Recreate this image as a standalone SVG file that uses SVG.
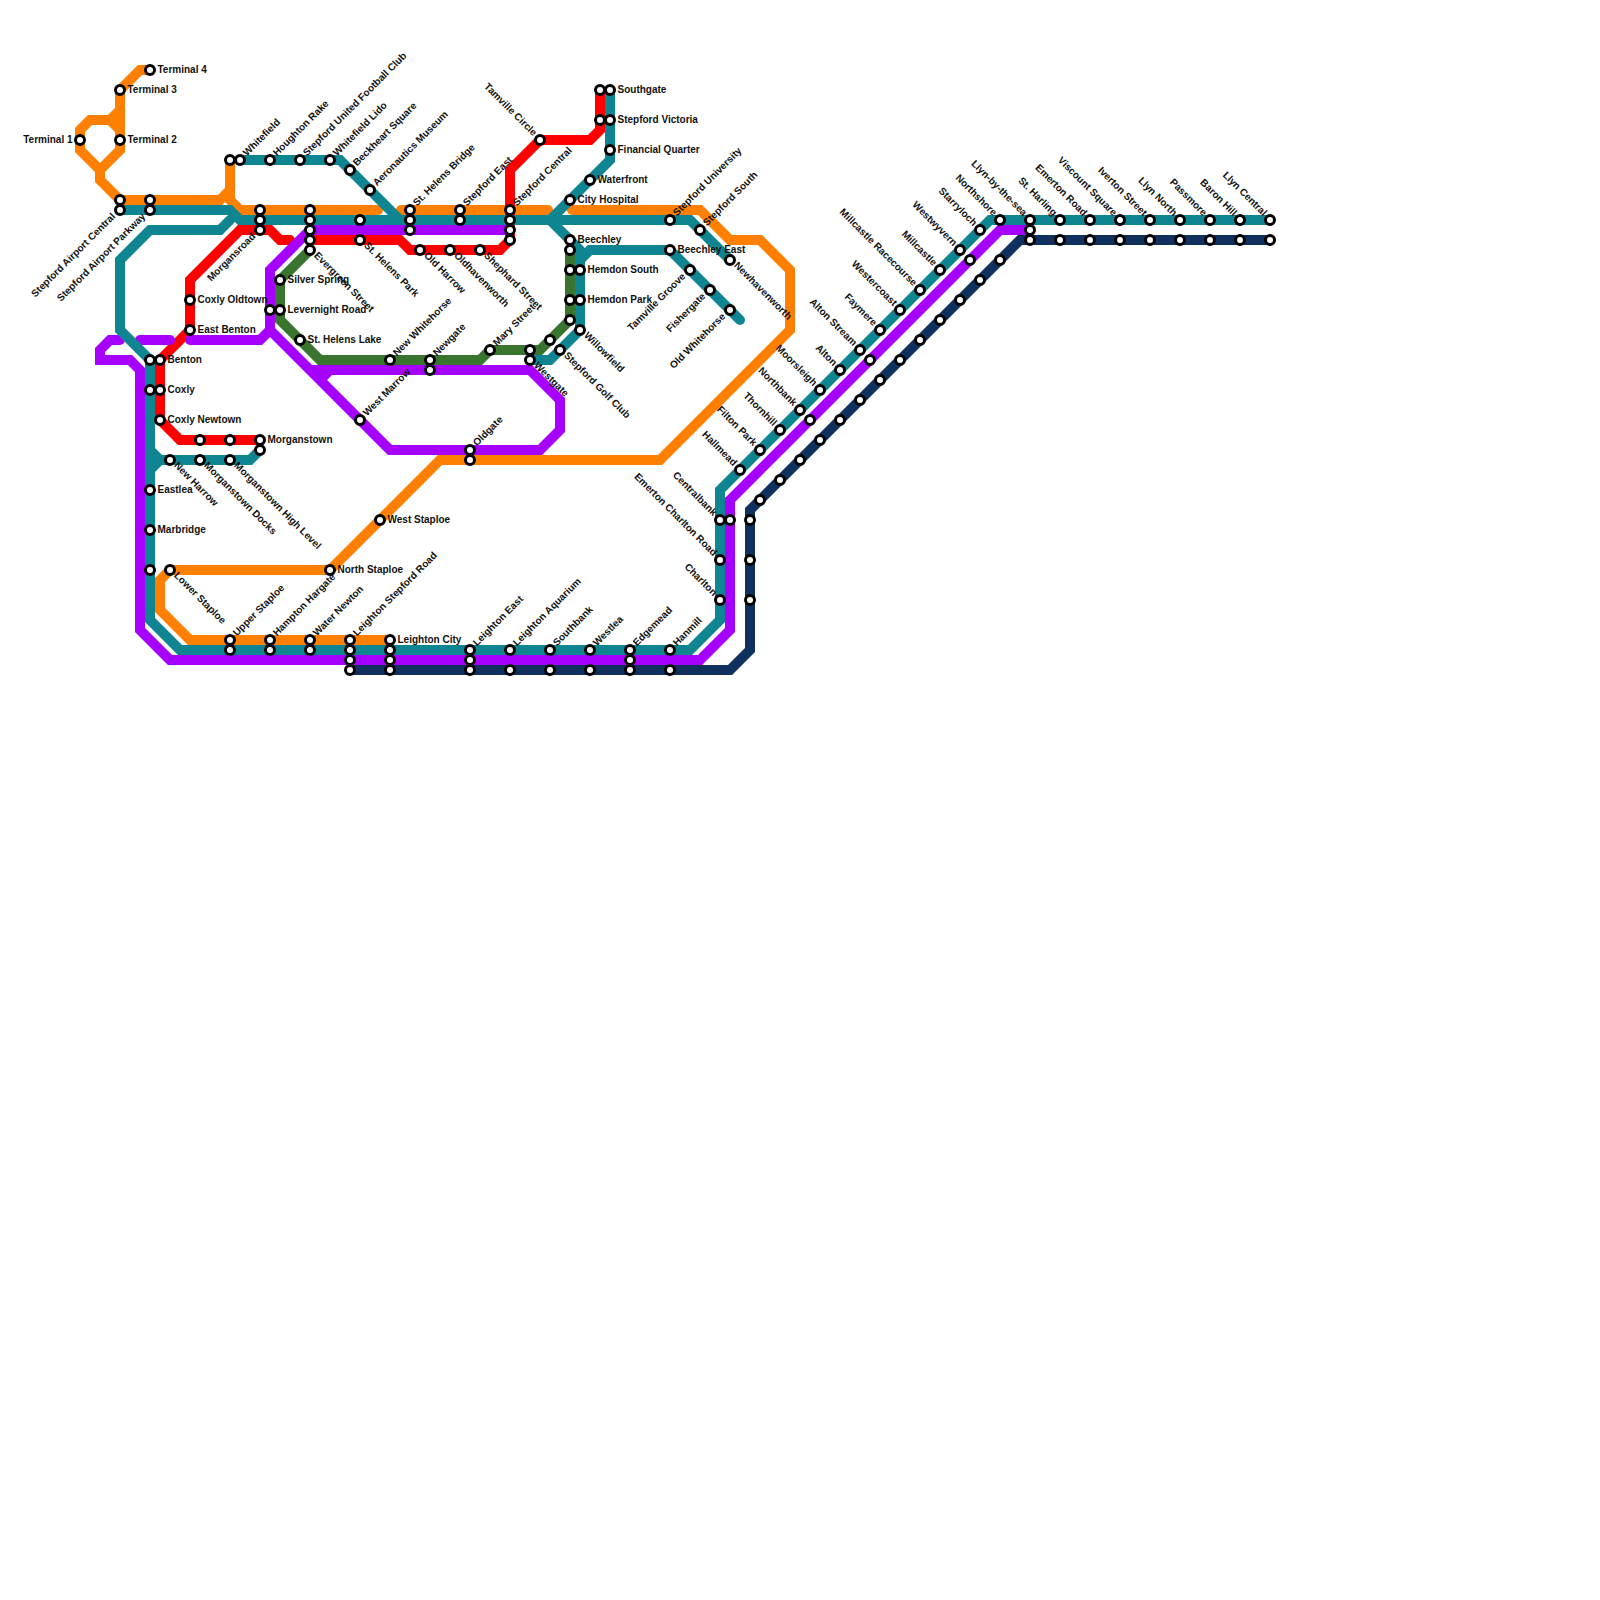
<svg xmlns="http://www.w3.org/2000/svg" width="1600" height="1600" viewBox="0 0 1600 1600">
<style>
.l{fill:none;stroke-width:10;stroke-linejoin:miter;stroke-linecap:round;stroke-miterlimit:8}
.o{stroke:#ff7f00}.r{stroke:#ff0000}.g{stroke:#3a7530}.p{stroke:#a600ff}.t{stroke:#0e8590}.n{stroke:#10305d}
circle{fill:#fff;stroke:#000;stroke-width:3}
text{font-family:"Liberation Sans",Arial,sans-serif;font-size:10px;font-weight:700;fill:#111}
.e{text-anchor:end}
</style>
<rect width="1600" height="1600" fill="#fff"/>
<g id="connectors">
<path class="l o" d="M150 70H140L120 90V150L100 170V180L120 200H220L230 190V160M230 190V200L240 210H378M120 130L110 120H90L80 130V150L100 170M110 120L120 110M401 210H548M572 210H700L730 240H760L790 270V330L660 460H440L330 570H170L160 580V610L190 640H390"/>
<path class="l r" d="M290 240H280L270 230H240L190 280V330L160 360V420L180 440H260M600 90V130L590 140H540L510 170V240L500 250H410L400 240H315"/>
<path class="l g" d="M310 250L280 280V320L320 360H480L490 350H540L570 320V250"/>
<path class="l p" d="M120 340H110L100 350V360H130L140 370V630L170 660H700L730 630V500L1000 230H1030M140 340H170M190 340H260L270 330V270L310 230H510M270 330L390 450H540L560 430V400L530 370H310M330 370L320 380"/>
<path class="l t" d="M120 210H230L240 220H690L730 260M150 360L120 330V260L150 230H220L230 220M240 160H340L400 220M150 360V620L180 650H690L720 620V490L990 220H1270M150 450L160 460H250L260 450M150 470L160 460M610 90V160L550 220L580 250M580 260L590 250H670L740 320M580 250V330L550 360H530"/>
<path class="l n" d="M350 670H730L750 650V510L1020 240H1270"/>
</g>
<g id="nodes">
<g id="s1"><circle cx="80" cy="140" r="4.5"/><text class="e" x="72.5" y="143">Terminal 1</text></g>
<g id="s2"><circle cx="120" cy="140" r="4.5"/><text x="127.5" y="143">Terminal 2</text></g>
<g id="s3"><circle cx="120" cy="90" r="4.5"/><text x="127.5" y="93">Terminal 3</text></g>
<g id="s4"><circle cx="150" cy="70" r="4.5"/><text x="157.5" y="73">Terminal 4</text></g>
<g id="s5"><circle cx="160" cy="360" r="4.5"/><text x="167.5" y="363">Benton</text></g>
<g id="s6"><circle cx="160" cy="390" r="4.5"/><text x="167.5" y="393">Coxly</text></g>
<g id="s7"><circle cx="160" cy="420" r="4.5"/><text x="167.5" y="423">Coxly Newtown</text></g>
<g id="s8"><circle cx="260" cy="440" r="4.5"/><text x="267.5" y="443">Morganstown</text></g>
<g id="s9"><circle cx="150" cy="490" r="4.5"/><text x="157.5" y="493">Eastlea</text></g>
<g id="s10"><circle cx="150" cy="530" r="4.5"/><text x="157.5" y="533">Marbridge</text></g>
<g id="s11"><circle cx="330" cy="570" r="4.5"/><text x="337.5" y="573">North Staploe</text></g>
<g id="s12"><circle cx="380" cy="520" r="4.5"/><text x="387.5" y="523">West Staploe</text></g>
<g id="s13"><circle cx="390" cy="640" r="4.5"/><text x="397.5" y="643">Leighton City</text></g>
<g id="s14"><circle cx="190" cy="300" r="4.5"/><text x="197.5" y="303">Coxly Oldtown</text></g>
<g id="s15"><circle cx="190" cy="330" r="4.5"/><text x="197.5" y="333">East Benton</text></g>
<g id="s16"><circle cx="280" cy="280" r="4.5"/><text x="287.5" y="283">Silver Spring</text></g>
<g id="s17"><circle cx="280" cy="310" r="4.5"/><text x="287.5" y="313">Levernight Road</text></g>
<g id="s18"><circle cx="300" cy="340" r="4.5"/><text x="307.5" y="343">St. Helens Lake</text></g>
<g id="s19"><circle cx="610" cy="90" r="4.5"/><text x="617.5" y="93">Southgate</text></g>
<g id="s20"><circle cx="610" cy="120" r="4.5"/><text x="617.5" y="123">Stepford Victoria</text></g>
<g id="s21"><circle cx="610" cy="150" r="4.5"/><text x="617.5" y="153">Financial Quarter</text></g>
<g id="s22"><circle cx="590" cy="180" r="4.5"/><text x="597.5" y="183">Waterfront</text></g>
<g id="s23"><circle cx="570" cy="200" r="4.5"/><text x="577.5" y="203">City Hospital</text></g>
<g id="s24"><circle cx="570" cy="240" r="4.5"/><text x="577.5" y="243">Beechley</text></g>
<g id="s25"><circle cx="580" cy="270" r="4.5"/><text x="587.5" y="273">Hemdon South</text></g>
<g id="s26"><circle cx="580" cy="300" r="4.5"/><text x="587.5" y="303">Hemdon Park</text></g>
<g id="s27"><circle cx="670" cy="250" r="4.5"/><text x="677.5" y="253">Beechley East</text></g>
<g id="s28"><circle cx="240" cy="160" r="4.5"/><text transform="translate(247 156.5) rotate(-45)">Whitefield</text></g>
<g id="s29"><circle cx="270" cy="160" r="4.5"/><text transform="translate(277 156.5) rotate(-45)">Houghton Rake</text></g>
<g id="s30"><circle cx="300" cy="160" r="4.5"/><text transform="translate(307 156.5) rotate(-45)">Stepford United Football Club</text></g>
<g id="s31"><circle cx="330" cy="160" r="4.5"/><text transform="translate(337 156.5) rotate(-45)">Whitefield Lido</text></g>
<g id="s32"><circle cx="350" cy="170" r="4.5"/><text transform="translate(357 166.5) rotate(-45)">Beckheart Square</text></g>
<g id="s33"><circle cx="370" cy="190" r="4.5"/><text transform="translate(377 186.5) rotate(-45)">Aeronautics Museum</text></g>
<g id="s34"><circle cx="410" cy="210" r="4.5"/><text transform="translate(417 206.5) rotate(-45)">St. Helens Bridge</text></g>
<g id="s35"><circle cx="460" cy="210" r="4.5"/><text transform="translate(467 206.5) rotate(-45)">Stepford East</text></g>
<g id="s36"><circle cx="510" cy="210" r="4.5"/><text transform="translate(517 206.5) rotate(-45)">Stepford Central</text></g>
<g id="s37"><circle cx="670" cy="220" r="4.5"/><text transform="translate(677 216.5) rotate(-45)">Stepford University</text></g>
<g id="s38"><circle cx="700" cy="230" r="4.5"/><text transform="translate(707 226.5) rotate(-45)">Stepford South</text></g>
<g id="s39"><circle cx="390" cy="360" r="4.5"/><text transform="translate(397 356.5) rotate(-45)">New Whitehorse</text></g>
<g id="s40"><circle cx="430" cy="360" r="4.5"/><text transform="translate(437 356.5) rotate(-45)">Newgate</text></g>
<g id="s41"><circle cx="490" cy="350" r="4.5"/><text transform="translate(497 346.5) rotate(-45)">Mary Street</text></g>
<g id="s42"><circle cx="360" cy="420" r="4.5"/><text transform="translate(367 416.5) rotate(-45)">West Marrow</text></g>
<g id="s43"><circle cx="470" cy="450" r="4.5"/><text transform="translate(477 446.5) rotate(-45)">Oldgate</text></g>
<g id="s44"><circle cx="230" cy="640" r="4.5"/><text transform="translate(237 636.5) rotate(-45)">Upper Staploe</text></g>
<g id="s45"><circle cx="270" cy="640" r="4.5"/><text transform="translate(277 636.5) rotate(-45)">Hampton Hargate</text></g>
<g id="s46"><circle cx="310" cy="640" r="4.5"/><text transform="translate(317 636.5) rotate(-45)">Water Newton</text></g>
<g id="s47"><circle cx="350" cy="640" r="4.5"/><text transform="translate(357 636.5) rotate(-45)">Leighton Stepford Road</text></g>
<g id="s48"><circle cx="470" cy="650" r="4.5"/><text transform="translate(477 646.5) rotate(-45)">Leighton East</text></g>
<g id="s49"><circle cx="510" cy="650" r="4.5"/><text transform="translate(517 646.5) rotate(-45)">Leighton Aquarium</text></g>
<g id="s50"><circle cx="550" cy="650" r="4.5"/><text transform="translate(557 646.5) rotate(-45)">Southbank</text></g>
<g id="s51"><circle cx="590" cy="650" r="4.5"/><text transform="translate(597 646.5) rotate(-45)">Westlea</text></g>
<g id="s52"><circle cx="630" cy="650" r="4.5"/><text transform="translate(637 646.5) rotate(-45)">Edgemead</text></g>
<g id="s53"><circle cx="670" cy="650" r="4.5"/><text transform="translate(677 646.5) rotate(-45)">Hanmill</text></g>
<g id="s54"><circle cx="360" cy="240" r="4.5"/><text transform="translate(363.5 246) rotate(45)">St. Helens Park</text></g>
<g id="s55"><circle cx="310" cy="250" r="4.5"/><text transform="translate(313.5 256) rotate(45)">Evergreen Street</text></g>
<g id="s56"><circle cx="420" cy="250" r="4.5"/><text transform="translate(423.5 256) rotate(45)">Old Harrow</text></g>
<g id="s57"><circle cx="450" cy="250" r="4.5"/><text transform="translate(453.5 256) rotate(45)">Oldhavenworth</text></g>
<g id="s58"><circle cx="480" cy="250" r="4.5"/><text transform="translate(483.5 256) rotate(45)">Shephard Street</text></g>
<g id="s59"><circle cx="580" cy="330" r="4.5"/><text transform="translate(583.5 336) rotate(45)">Willowfield</text></g>
<g id="s60"><circle cx="560" cy="350" r="4.5"/><text transform="translate(563.5 356) rotate(45)">Stepford Golf Club</text></g>
<g id="s61"><circle cx="530" cy="360" r="4.5"/><text transform="translate(533.5 366) rotate(45)">Westgate</text></g>
<g id="s62"><circle cx="730" cy="260" r="4.5"/><text transform="translate(733.5 266) rotate(45)">Newhavenworth</text></g>
<g id="s63"><circle cx="170" cy="460" r="4.5"/><text transform="translate(173.5 466) rotate(45)">New Harrow</text></g>
<g id="s64"><circle cx="200" cy="460" r="4.5"/><text transform="translate(203.5 466) rotate(45)">Morganstown Docks</text></g>
<g id="s65"><circle cx="230" cy="460" r="4.5"/><text transform="translate(233.5 466) rotate(45)">Morganstown High Level</text></g>
<g id="s66"><circle cx="170" cy="570" r="4.5"/><text transform="translate(173.5 576) rotate(45)">Lower Staploe</text></g>
<g id="s67"><circle cx="540" cy="140" r="4.5"/><text class="e" transform="translate(533 136.5) rotate(45)">Tamville Circle</text></g>
<g id="s68"><circle cx="740" cy="470" r="4.5"/><text class="e" transform="translate(733 466.5) rotate(45)">Hallmead</text></g>
<g id="s69"><circle cx="760" cy="450" r="4.5"/><text class="e" transform="translate(753 446.5) rotate(45)">Filton Park</text></g>
<g id="s70"><circle cx="780" cy="430" r="4.5"/><text class="e" transform="translate(773 426.5) rotate(45)">Thornhill</text></g>
<g id="s71"><circle cx="800" cy="410" r="4.5"/><text class="e" transform="translate(793 406.5) rotate(45)">Northbank</text></g>
<g id="s72"><circle cx="820" cy="390" r="4.5"/><text class="e" transform="translate(813 386.5) rotate(45)">Moorsleigh</text></g>
<g id="s73"><circle cx="840" cy="370" r="4.5"/><text class="e" transform="translate(833 366.5) rotate(45)">Alton</text></g>
<g id="s74"><circle cx="860" cy="350" r="4.5"/><text class="e" transform="translate(853 346.5) rotate(45)">Alton Stream</text></g>
<g id="s75"><circle cx="880" cy="330" r="4.5"/><text class="e" transform="translate(873 326.5) rotate(45)">Faymere</text></g>
<g id="s76"><circle cx="900" cy="310" r="4.5"/><text class="e" transform="translate(893 306.5) rotate(45)">Westercoast</text></g>
<g id="s77"><circle cx="920" cy="290" r="4.5"/><text class="e" transform="translate(913 286.5) rotate(45)">Millcastle Racecourse</text></g>
<g id="s78"><circle cx="940" cy="270" r="4.5"/><text class="e" transform="translate(933 266.5) rotate(45)">Millcastle</text></g>
<g id="s79"><circle cx="960" cy="250" r="4.5"/><text class="e" transform="translate(953 246.5) rotate(45)">Westwyvern</text></g>
<g id="s80"><circle cx="980" cy="230" r="4.5"/><text class="e" transform="translate(973 226.5) rotate(45)">Starryloch</text></g>
<g id="s81"><circle cx="1000" cy="220" r="4.5"/><text class="e" transform="translate(993 216.5) rotate(45)">Northshore</text></g>
<g id="s82"><circle cx="1030" cy="220" r="4.5"/><text class="e" transform="translate(1023 216.5) rotate(45)">Llyn-by-the-sea</text></g>
<g id="s83"><circle cx="1060" cy="220" r="4.5"/><text class="e" transform="translate(1053 216.5) rotate(45)">St. Harling</text></g>
<g id="s84"><circle cx="1090" cy="220" r="4.5"/><text class="e" transform="translate(1083 216.5) rotate(45)">Emerton Road</text></g>
<g id="s85"><circle cx="1120" cy="220" r="4.5"/><text class="e" transform="translate(1113 216.5) rotate(45)">Viscount Square</text></g>
<g id="s86"><circle cx="1150" cy="220" r="4.5"/><text class="e" transform="translate(1143 216.5) rotate(45)">Iverton Street</text></g>
<g id="s87"><circle cx="1180" cy="220" r="4.5"/><text class="e" transform="translate(1173 216.5) rotate(45)">Llyn North</text></g>
<g id="s88"><circle cx="1210" cy="220" r="4.5"/><text class="e" transform="translate(1203 216.5) rotate(45)">Passmore</text></g>
<g id="s89"><circle cx="1240" cy="220" r="4.5"/><text class="e" transform="translate(1233 216.5) rotate(45)">Baron Hill</text></g>
<g id="s90"><circle cx="1270" cy="220" r="4.5"/><text class="e" transform="translate(1263 216.5) rotate(45)">Llyn Central</text></g>
<g id="s91"><circle cx="720" cy="520" r="4.5"/><text class="e" transform="translate(713 516.5) rotate(45)">Centralbank</text></g>
<g id="s92"><circle cx="720" cy="560" r="4.5"/><text class="e" transform="translate(713 556.5) rotate(45)">Emerton Charlton Road</text></g>
<g id="s93"><circle cx="720" cy="600" r="4.5"/><text class="e" transform="translate(713 596.5) rotate(45)">Charlton</text></g>
<g id="s94"><circle cx="120" cy="210" r="4.5"/><text class="e" transform="translate(116 217) rotate(-45)">Stepford Airport Central</text></g>
<g id="s95"><circle cx="150" cy="210" r="4.5"/><text class="e" transform="translate(146 217) rotate(-45)">Stepford Airport Parkway</text></g>
<g id="s96"><circle cx="260" cy="230" r="4.5"/><text class="e" transform="translate(256 237) rotate(-45)">Morgansroad</text></g>
<g id="s97"><circle cx="690" cy="270" r="4.5"/><text class="e" transform="translate(686 277) rotate(-45)">Tamville Groove</text></g>
<g id="s98"><circle cx="710" cy="290" r="4.5"/><text class="e" transform="translate(706 297) rotate(-45)">Fishergate</text></g>
<g id="s99"><circle cx="730" cy="310" r="4.5"/><text class="e" transform="translate(726 317) rotate(-45)">Old Whitehorse</text></g>
<g id="x1"><circle cx="230" cy="160" r="4.5"/></g>
<g id="x2"><circle cx="120" cy="200" r="4.5"/></g>
<g id="x3"><circle cx="150" cy="200" r="4.5"/></g>
<g id="x4"><circle cx="260" cy="210" r="4.5"/></g>
<g id="x5"><circle cx="260" cy="220" r="4.5"/></g>
<g id="x6"><circle cx="310" cy="210" r="4.5"/></g>
<g id="x7"><circle cx="310" cy="220" r="4.5"/></g>
<g id="x8"><circle cx="310" cy="230" r="4.5"/></g>
<g id="x9"><circle cx="310" cy="240" r="4.5"/></g>
<g id="x10"><circle cx="360" cy="220" r="4.5"/></g>
<g id="x11"><circle cx="410" cy="220" r="4.5"/></g>
<g id="x12"><circle cx="410" cy="230" r="4.5"/></g>
<g id="x13"><circle cx="460" cy="220" r="4.5"/></g>
<g id="x14"><circle cx="510" cy="220" r="4.5"/></g>
<g id="x15"><circle cx="510" cy="230" r="4.5"/></g>
<g id="x16"><circle cx="510" cy="240" r="4.5"/></g>
<g id="x17"><circle cx="600" cy="90" r="4.5"/></g>
<g id="x18"><circle cx="600" cy="120" r="4.5"/></g>
<g id="x19"><circle cx="570" cy="250" r="4.5"/></g>
<g id="x20"><circle cx="570" cy="270" r="4.5"/></g>
<g id="x21"><circle cx="570" cy="300" r="4.5"/></g>
<g id="x22"><circle cx="570" cy="320" r="4.5"/></g>
<g id="x23"><circle cx="550" cy="340" r="4.5"/></g>
<g id="x24"><circle cx="530" cy="350" r="4.5"/></g>
<g id="x25"><circle cx="430" cy="370" r="4.5"/></g>
<g id="x26"><circle cx="270" cy="310" r="4.5"/></g>
<g id="x27"><circle cx="150" cy="360" r="4.5"/></g>
<g id="x28"><circle cx="150" cy="390" r="4.5"/></g>
<g id="x29"><circle cx="200" cy="440" r="4.5"/></g>
<g id="x30"><circle cx="230" cy="440" r="4.5"/></g>
<g id="x31"><circle cx="260" cy="450" r="4.5"/></g>
<g id="x32"><circle cx="150" cy="570" r="4.5"/></g>
<g id="x33"><circle cx="470" cy="460" r="4.5"/></g>
<g id="x34"><circle cx="230" cy="650" r="4.5"/></g>
<g id="x35"><circle cx="270" cy="650" r="4.5"/></g>
<g id="x36"><circle cx="310" cy="650" r="4.5"/></g>
<g id="x37"><circle cx="350" cy="650" r="4.5"/></g>
<g id="x38"><circle cx="350" cy="660" r="4.5"/></g>
<g id="x39"><circle cx="350" cy="670" r="4.5"/></g>
<g id="x40"><circle cx="390" cy="650" r="4.5"/></g>
<g id="x41"><circle cx="390" cy="660" r="4.5"/></g>
<g id="x42"><circle cx="390" cy="670" r="4.5"/></g>
<g id="x43"><circle cx="470" cy="660" r="4.5"/></g>
<g id="x44"><circle cx="470" cy="670" r="4.5"/></g>
<g id="x45"><circle cx="510" cy="670" r="4.5"/></g>
<g id="x46"><circle cx="550" cy="670" r="4.5"/></g>
<g id="x47"><circle cx="590" cy="670" r="4.5"/></g>
<g id="x48"><circle cx="630" cy="660" r="4.5"/></g>
<g id="x49"><circle cx="630" cy="670" r="4.5"/></g>
<g id="x50"><circle cx="670" cy="670" r="4.5"/></g>
<g id="x51"><circle cx="730" cy="520" r="4.5"/></g>
<g id="x52"><circle cx="750" cy="520" r="4.5"/></g>
<g id="x53"><circle cx="750" cy="560" r="4.5"/></g>
<g id="x54"><circle cx="750" cy="600" r="4.5"/></g>
<g id="x55"><circle cx="760" cy="500" r="4.5"/></g>
<g id="x56"><circle cx="780" cy="480" r="4.5"/></g>
<g id="x57"><circle cx="800" cy="460" r="4.5"/></g>
<g id="x58"><circle cx="820" cy="440" r="4.5"/></g>
<g id="x59"><circle cx="840" cy="420" r="4.5"/></g>
<g id="x60"><circle cx="860" cy="400" r="4.5"/></g>
<g id="x61"><circle cx="880" cy="380" r="4.5"/></g>
<g id="x62"><circle cx="900" cy="360" r="4.5"/></g>
<g id="x63"><circle cx="920" cy="340" r="4.5"/></g>
<g id="x64"><circle cx="940" cy="320" r="4.5"/></g>
<g id="x65"><circle cx="960" cy="300" r="4.5"/></g>
<g id="x66"><circle cx="980" cy="280" r="4.5"/></g>
<g id="x67"><circle cx="1000" cy="260" r="4.5"/></g>
<g id="x68"><circle cx="810" cy="420" r="4.5"/></g>
<g id="x69"><circle cx="870" cy="360" r="4.5"/></g>
<g id="x70"><circle cx="970" cy="260" r="4.5"/></g>
<g id="x71"><circle cx="1030" cy="230" r="4.5"/></g>
<g id="x72"><circle cx="1030" cy="240" r="4.5"/></g>
<g id="x73"><circle cx="1060" cy="240" r="4.5"/></g>
<g id="x74"><circle cx="1090" cy="240" r="4.5"/></g>
<g id="x75"><circle cx="1120" cy="240" r="4.5"/></g>
<g id="x76"><circle cx="1150" cy="240" r="4.5"/></g>
<g id="x77"><circle cx="1180" cy="240" r="4.5"/></g>
<g id="x78"><circle cx="1210" cy="240" r="4.5"/></g>
<g id="x79"><circle cx="1240" cy="240" r="4.5"/></g>
<g id="x80"><circle cx="1270" cy="240" r="4.5"/></g>
</g>
</svg>
